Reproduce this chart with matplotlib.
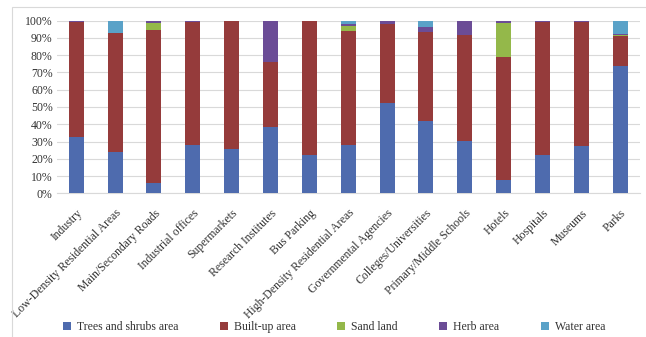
import numpy as np
import matplotlib.pyplot as plt
from matplotlib import ticker
from matplotlib.patches import Rectangle

plt.rcParams['font.family'] = ['Liberation Serif', 'DejaVu Serif']

# Land cover composition (%) for each functional zone
categories = ['Industry', 'Low-Density Residential Areas', 'Main/Secondary Roads',
              'Industrial offices', 'Supermarkets', 'Research Institutes', 'Bus Parking',
              'High-Density Residential Areas', 'Governmental Agencies',
              'Colleges/Universities', 'Primary/Middle Schools', 'Hotels',
              'Hospitals', 'Museums', 'Parks']

trees = [32.8, 24.1, 6.0, 28.2, 25.7, 38.2, 22.0, 28.2, 52.5, 41.9, 30.3, 7.7, 22.4, 27.6, 73.9]
built = [66.4, 68.8, 88.6, 71.2, 74.3, 38.1, 78.0, 66.0, 45.4, 51.3, 61.4, 71.5, 76.8, 71.6, 17.0]
sand = [0.0, 0.0, 4.2, 0.0, 0.0, 0.0, 0.0, 2.7, 0.0, 0.0, 0.0, 19.3, 0.0, 0.0, 1.0]
herb = [0.8, 0.0, 0.8, 0.6, 0.0, 23.7, 0.0, 1.2, 2.1, 3.3, 8.3, 1.5, 0.8, 0.8, 0.3]
water = [0.0, 7.1, 0.4, 0.0, 0.0, 0.0, 0.0, 1.9, 0.0, 3.5, 0.0, 0.0, 0.0, 0.0, 7.8]

series = [
    ('Trees and shrubs area', trees, '#4E6BAE'),
    ('Built-up area', built, '#953B3B'),
    ('Sand land', sand, '#94B84A'),
    ('Herb area', herb, '#6B4C96'),
    ('Water area', water, '#5AA2C8'),
]

fig = plt.figure(figsize=(6.46, 3.37), dpi=100)
ax = fig.add_axes([0.088, 0.4264, 0.902, 0.5122])

x = np.arange(len(categories))
bottom = np.zeros(len(categories))
for name, vals, color in series:
    vals = np.array(vals)
    ax.bar(x, vals, 0.385, bottom=bottom, color=color, label=name, zorder=3)
    bottom += vals

ax.set_xlim(-0.5, len(categories) - 0.5)
ax.set_ylim(0, 100)
ax.set_yticks(np.arange(0, 101, 10))
ax.yaxis.set_major_formatter(ticker.FuncFormatter(lambda v, p: f'{v:.0f}%'))
ax.grid(axis='y', color='#D9D9D9', linewidth=0.8, zorder=0)
for s in ['top', 'right', 'left']:
    ax.spines[s].set_visible(False)
ax.spines['bottom'].set_color('#D9D9D9')
ax.tick_params(axis='y', length=0, labelsize=8.5, colors='#333333', pad=3)
ax.tick_params(axis='x', length=0, labelsize=8.5, colors='#333333', pad=10)

ax.set_xticks(x)
ax.set_xticklabels(categories, rotation=45, ha='right', rotation_mode='anchor')

fig.legend(loc='center', bbox_to_anchor=(0.517, 1 - 327 / 337), ncol=5, frameon=False,
           fontsize=8.5, handlelength=0.7, handleheight=0.7, handletextpad=0.5,
           columnspacing=3.5, labelcolor='#333333')

# light frame around the whole chart
fig.patches.append(Rectangle((12 / 646, -0.01), 0.99, 1 - 7 / 337 + 0.01,
                             transform=fig.transFigure, fill=False,
                             edgecolor='#D9D9D9', linewidth=0.8))

fig.savefig('out.png', dpi=100, facecolor='white')
